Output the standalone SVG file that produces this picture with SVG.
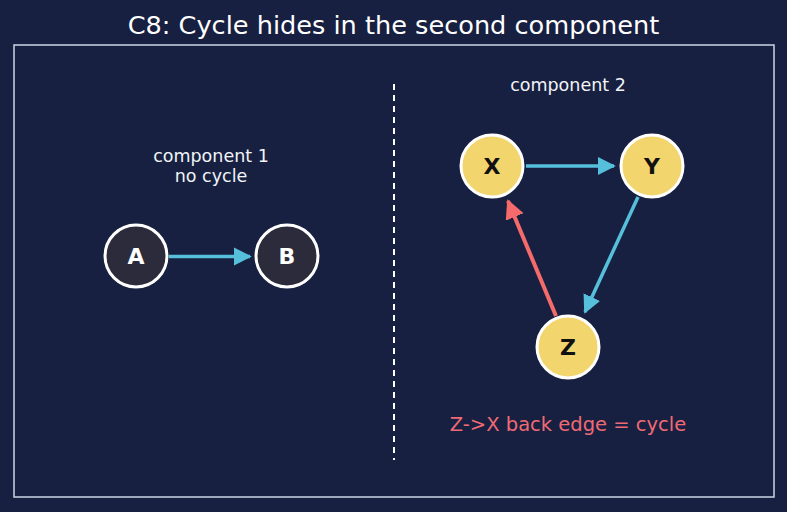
<svg xmlns="http://www.w3.org/2000/svg" width="787" height="512" viewBox="0 0 787 512">
<style>
.t{font-family:"DejaVu Sans","Liberation Sans",sans-serif;text-anchor:middle}
.lbl{font-size:17.5px;fill:#f2f4f8}
.nd{stroke:#ffffff;stroke-width:3}
.dk{fill:#2b2b3b}
.yl{fill:#f3d56e}
.nl{font-family:"DejaVu Sans","Liberation Sans",sans-serif;font-size:22px;font-weight:bold;text-anchor:middle}
.e{stroke:#56bfdc;stroke-width:3.5;fill:none}
.r{stroke:#f56b6b;stroke-width:4;fill:none}
</style>
<defs>
<marker id="ab" viewBox="0 0 10 10" refX="9" refY="5" markerWidth="5.2" markerHeight="5.2" orient="auto" markerUnits="strokeWidth"><path d="M0,0L10,5L0,10z" fill="#56bfdc"/></marker>
<marker id="ar" viewBox="0 0 10 10" refX="9" refY="5" markerWidth="4.8" markerHeight="4.8" orient="auto" markerUnits="strokeWidth"><path d="M0,0L10,5L0,10z" fill="#f56b6b"/></marker>
</defs>
<rect width="787" height="512" fill="#172040"/>
<text class="t" x="393.5" y="34" font-size="25.6" fill="#ffffff">C8: Cycle hides in the second component</text>
<rect x="14" y="45" width="760" height="452" fill="none" stroke="#c9d6e3" stroke-width="1.5"/>
<line x1="394" y1="84" x2="394" y2="460" stroke="#ffffff" stroke-width="2" stroke-dasharray="6,5"/>
<text class="t lbl" x="211" y="162">component 1</text>
<text class="t lbl" x="211" y="182">no cycle</text>
<text class="t lbl" x="568" y="91">component 2</text>
<text class="t" x="568" y="431" font-size="19.5" fill="#f06a75">Z-&gt;X back edge = cycle</text>
<g id="edges">
<line class="e" x1="169" y1="256.5" x2="250" y2="256.5" marker-end="url(#ab)"/>
<line class="e" x1="526" y1="166" x2="614" y2="166" marker-end="url(#ab)"/>
<line class="e" x1="638" y1="197" x2="585" y2="312" marker-end="url(#ab)"/>
<line class="r" x1="556" y1="316" x2="508" y2="201" marker-end="url(#ar)"/>
</g>
<g id="A"><circle class="nd dk" cx="136" cy="256" r="31"/><text class="nl" x="136" y="264" fill="#ffffff">A</text></g>
<g id="B"><circle class="nd dk" cx="287" cy="256" r="31"/><text class="nl" x="287" y="264" fill="#ffffff">B</text></g>
<g id="X"><circle class="nd yl" cx="492" cy="166" r="31"/><text class="nl" x="492" y="174" fill="#111111">X</text></g>
<g id="Y"><circle class="nd yl" cx="652" cy="166" r="31"/><text class="nl" x="652" y="174" fill="#111111">Y</text></g>
<g id="Z"><circle class="nd yl" cx="568" cy="347" r="31"/><text class="nl" x="568" y="355" fill="#111111">Z</text></g>
</svg>
